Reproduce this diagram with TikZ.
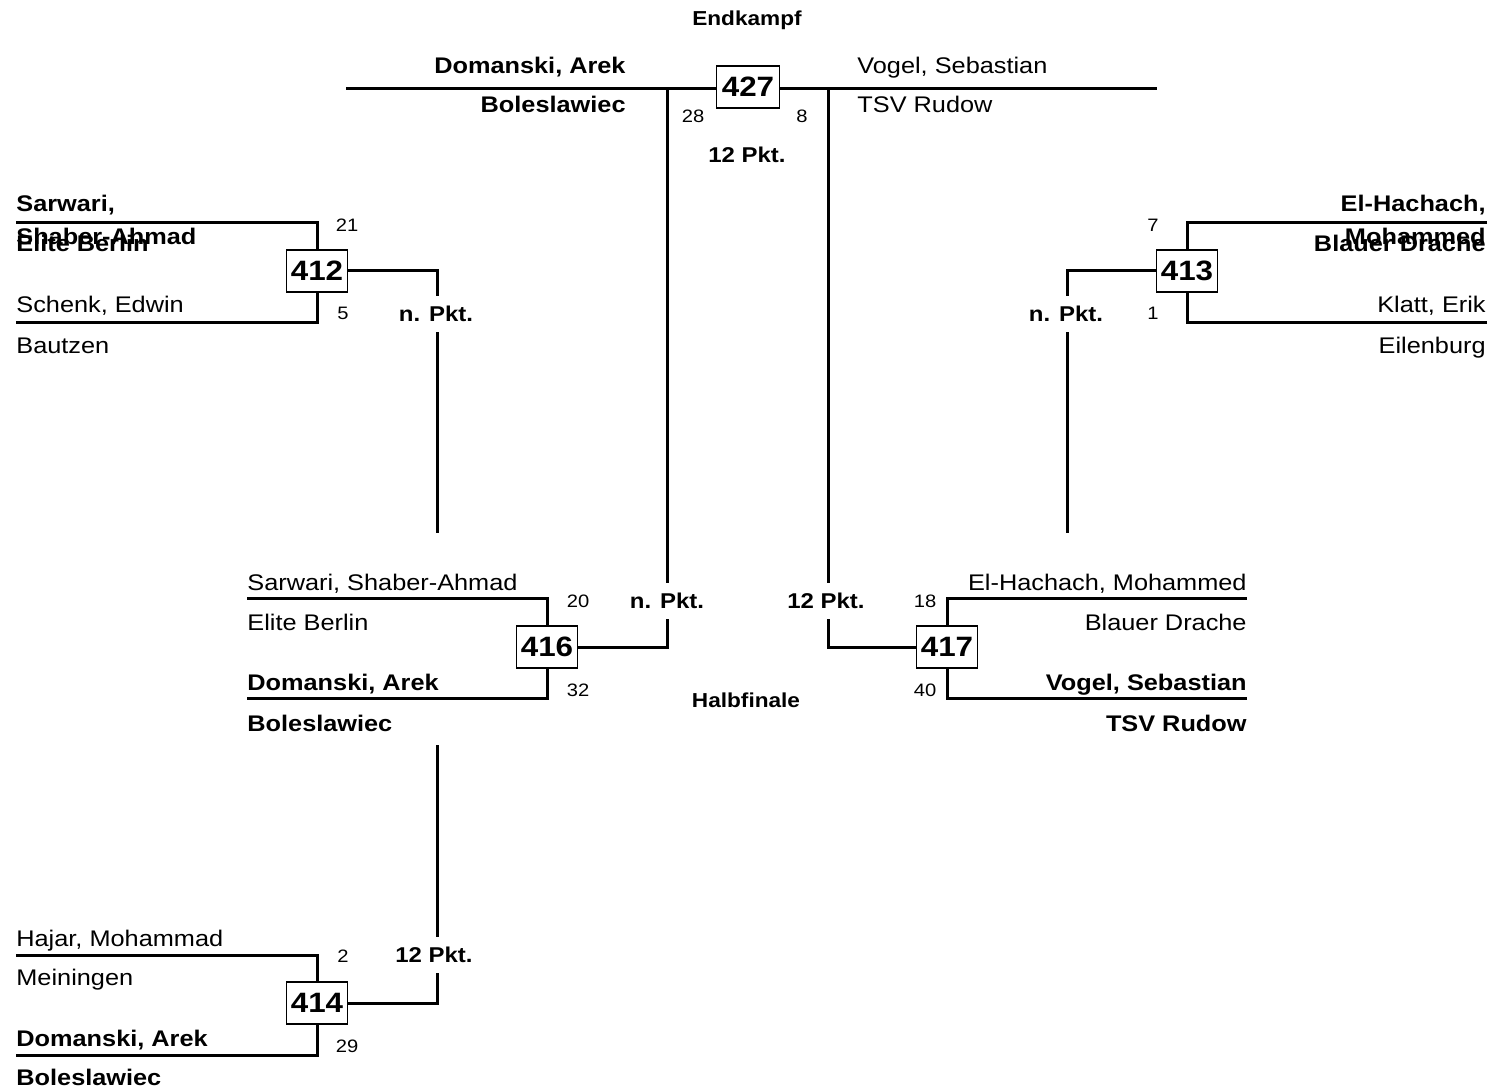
\documentclass[tikz,border=0pt]{standalone}
\usepackage{fontspec}
\setmainfont{Liberation Sans}[FakeStretch=1.12]
\begin{document}
\begin{tikzpicture}[x=0.5pt,y=-0.5pt,
  bout/.style={draw,line width=0.6pt,fill=white,minimum width=30.5pt,minimum height=21pt,inner sep=0pt,font=\fontsize{14}{16}\selectfont\bfseries},
  wire/.style={line width=1.5pt},
  nm/.style={inner sep=0pt,font=\fontsize{11.3}{13}\selectfont},
  nmb/.style={nm,font=\fontsize{11.3}{13}\selectfont\bfseries},
  sc/.style={inner sep=0pt,font=\fontsize{9}{10}\selectfont},
  pk/.style={fill=white,inner xsep=1pt,inner ysep=5pt,font=\fontsize{10.7}{12}\selectfont\bfseries},
  rnd/.style={inner sep=0pt,font=\fontsize{10.1}{12}\selectfont\bfseries}]
\useasboundingbox (0,0) rectangle (1492,1090);

% Endkampf
\node[rnd] (t427) at (747,20) {Endkampf};
\coordinate (fl) at (346,89);
\coordinate (fr) at (1157,89);
\draw[wire] (fl) -- (fr);
\node[bout,minimum width=31.5pt] (m427) at (748,87) {427};
\node[nmb,anchor=base east] (n427a) at (626,74) {Domanski, Arek};
\node[nmb,anchor=base east] (c427a) at (626,113) {Boleslawiec};
\node[nm,anchor=base west] (n427b) at (857,74) {Vogel, Sebastian};
\node[nm,anchor=base west] (c427b) at (857,113) {TSV Rudow};
\node[sc] (s427a) at (693,116) {28};
\node[sc] (s427b) at (802,116) {8};
\node[pk] (p427) at (747,155) {12 Pkt.};

% 412
\coordinate (a412) at (16,223);
\coordinate (b412) at (16,323);
\node[bout] (m412) at (317,271) {412};
\draw[wire] (a412) -| (m412.north);
\draw[wire] (b412) -| (m412.south);
\node[nmb,anchor=base west] (n412a) at (16,212) {Sarwari,};
\node[nmb,anchor=base west] (n412b) at (16,245) {Shaber-Ahmad};
\node[nmb,anchor=base west] (c412a) at (16,252) {Elite Berlin};
\node[nm,anchor=base west] (n412c) at (16,313) {Schenk, Edwin};
\node[nm,anchor=base west] (c412b) at (16,354) {Bautzen};
\node[sc] (s412a) at (347,225) {21};
\node[sc] (s412b) at (343,313) {5};
\coordinate (e412) at (437,533);
\draw[wire] (m412.east) -| (e412);
\node[pk] (p412) at (436,314) {n. Pkt.};

% 413
\coordinate (a413) at (1487,223);
\coordinate (b413) at (1487,323);
\node[bout] (m413) at (1187,271) {413};
\draw[wire] (a413) -| (m413.north);
\draw[wire] (b413) -| (m413.south);
\node[nmb,anchor=base east] (n413a) at (1486,212) {El-Hachach,};
\node[nmb,anchor=base east] (n413b) at (1486,245) {Mohammed};
\node[nmb,anchor=base east] (c413a) at (1486,252) {Blauer Drache};
\node[nm,anchor=base east] (n413c) at (1486,313) {Klatt, Erik};
\node[nm,anchor=base east] (c413b) at (1486,354) {Eilenburg};
\node[sc] (s413a) at (1153,225) {7};
\node[sc] (s413b) at (1153,313) {1};
\coordinate (e413) at (1067,533);
\draw[wire] (m413.west) -| (e413);
\node[pk] (p413) at (1066,314) {n. Pkt.};

% 414
\coordinate (a414) at (16,955);
\coordinate (b414) at (16,1055);
\node[bout] (m414) at (317,1003) {414};
\draw[wire] (a414) -| (m414.north);
\draw[wire] (b414) -| (m414.south);
\node[nm,anchor=base west] (n414a) at (16,946) {Hajar, Mohammad};
\node[nm,anchor=base west] (c414a) at (16,985) {Meiningen};
\node[nmb,anchor=base west] (n414b) at (16,1046) {Domanski, Arek};
\node[nmb,anchor=base west] (c414b) at (16,1085) {Boleslawiec};
\node[sc] (s414a) at (343,956) {2};
\node[sc] (s414b) at (347,1046) {29};
\coordinate (e414) at (437,745);
\draw[wire] (m414.east) -| (e414);
\node[pk] (p414) at (434,955) {12 Pkt.};

% Halbfinale
\node[rnd] (t416) at (746,700) {Halbfinale};

% 416
\coordinate (a416) at (247,598);
\coordinate (b416) at (247,698);
\node[bout] (m416) at (547,647) {416};
\draw[wire] (a416) -| (m416.north);
\draw[wire] (b416) -| (m416.south);
\node[nm,anchor=base west] (n416a) at (247,590) {Sarwari, Shaber-Ahmad};
\node[nm,anchor=base west] (c416a) at (247,630) {Elite Berlin};
\node[nmb,anchor=base west] (n416b) at (247,690) {Domanski, Arek};
\node[nmb,anchor=base west] (c416b) at (247,731) {Boleslawiec};
\node[sc] (s416a) at (578,601) {20};
\node[sc] (s416b) at (578,690) {32};
\coordinate (e416) at (667,89);
\draw[wire] (m416.east) -| (e416);
\node[pk] (p416) at (667,601) {n. Pkt.};

% 417
\coordinate (a417) at (1247,598);
\coordinate (b417) at (1247,698);
\node[bout] (m417) at (947,647) {417};
\draw[wire] (a417) -| (m417.north);
\draw[wire] (b417) -| (m417.south);
\node[nm,anchor=base east] (n417a) at (1247,590) {El-Hachach, Mohammed};
\node[nm,anchor=base east] (c417a) at (1247,630) {Blauer Drache};
\node[nmb,anchor=base east] (n417b) at (1247,690) {Vogel, Sebastian};
\node[nmb,anchor=base east] (c417b) at (1247,731) {TSV Rudow};
\node[sc] (s417a) at (925,601) {18};
\node[sc] (s417b) at (925,690) {40};
\coordinate (e417) at (828,89);
\draw[wire] (m417.west) -| (e417);
\node[pk] (p417) at (826,601) {12 Pkt.};
\end{tikzpicture}
\end{document}
